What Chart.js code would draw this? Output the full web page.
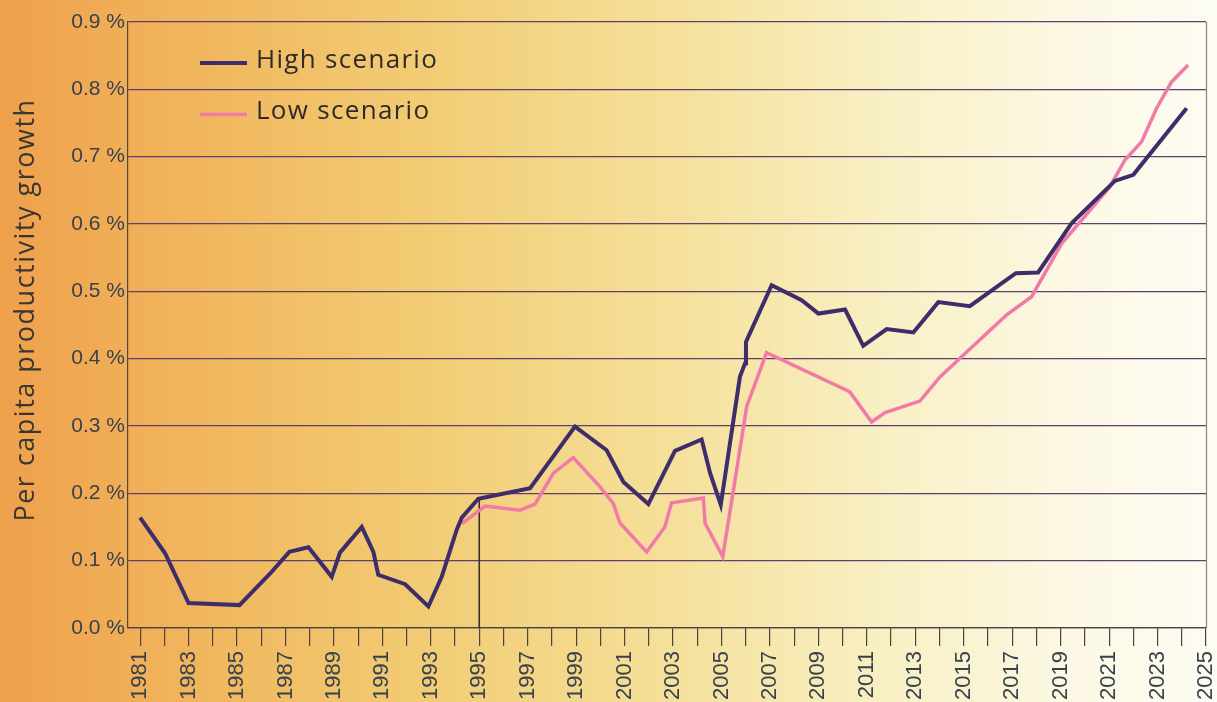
<!DOCTYPE html>
<html>
<head>
<meta charset="utf-8">
<script src="https://cdn.jsdelivr.net/npm/chart.js@4.4.0/dist/chart.umd.min.js"></script>
<style>
  html, body { margin: 0; padding: 0; background: #fdfcf2; }
  #wrap { width: 1217px; height: 702px; }
</style>
</head>
<body>
<div id="wrap"><canvas id="c" width="1217" height="702"></canvas></div>
<script>
// ---- data ----
const highYears  = [1981.0, 1982.03, 1983.0, 1985.1, 1986.37, 1987.16, 1987.95, 1988.91, 1989.25, 1990.15, 1990.63, 1990.83, 1991.94, 1992.9, 1993.45, 1994.07, 1994.28, 1994.96, 1995.37, 1997.1, 1998.95, 2000.26, 2000.95, 2001.98, 2003.08, 2004.18, 2004.53, 2004.97, 2005.76, 2005.97, 2006.01, 2007.07, 2008.31, 2009.0, 2010.1, 2010.85, 2011.82, 2012.92, 2013.95, 2015.25, 2017.15, 2018.07, 2019.45, 2021.24, 2022.0, 2024.2];
const highValues = [0.164, 0.111, 0.037, 0.034, 0.081, 0.113, 0.120, 0.076, 0.112, 0.150, 0.113, 0.079, 0.065, 0.032, 0.076, 0.146, 0.164, 0.192, 0.195, 0.2075, 0.299, 0.264, 0.217, 0.184, 0.263, 0.280, 0.230, 0.183, 0.373, 0.393, 0.425, 0.509, 0.487, 0.467, 0.473, 0.419, 0.444, 0.439, 0.484, 0.478, 0.527, 0.528, 0.601, 0.664, 0.673, 0.772];

const lowYears   = [1994.28, 1995.24, 1996.68, 1997.3, 1998.06, 1998.88, 1999.98, 2000.53, 2000.81, 2001.91, 2002.66, 2002.94, 2004.25, 2004.32, 2005.05, 2005.56, 2006.04, 2006.86, 2010.29, 2011.2, 2011.75, 2013.19, 2014.02, 2015.12, 2016.77, 2017.8, 2019.04, 2021.03, 2021.65, 2022.34, 2022.96, 2023.58, 2024.26];
const lowValues  = [0.155, 0.181, 0.175, 0.184, 0.230, 0.253, 0.210, 0.185, 0.156, 0.113, 0.150, 0.186, 0.193, 0.156, 0.106, 0.220, 0.329, 0.409, 0.351, 0.306, 0.320, 0.337, 0.373, 0.410, 0.465, 0.492, 0.571, 0.655, 0.695, 0.722, 0.772, 0.811, 0.836];

const markerYears  = [1995, 1995];
const markerValues = [0, 0.192];

const seriesNames = ['High scenario', 'Low scenario'];
const yTitle = 'Per capita productivity growth';
const xMin = 1980.5, xMax = 2025;
const yTickValues = [0, 0.1, 0.2, 0.3, 0.4, 0.5, 0.6, 0.7, 0.8, 0.9];

const toPts = (xs, ys) => xs.map((x, i) => ({ x: x, y: ys[i] }));

const bgPlugin = {
  id: 'bg',
  beforeDraw(chart) {
    const ctx = chart.ctx;
    const g = ctx.createLinearGradient(0, 0, chart.width, 0);
    g.addColorStop(0.00, '#efa04c');
    g.addColorStop(0.18, '#f1b85f');
    g.addColorStop(0.35, '#f2cc74');
    g.addColorStop(0.55, '#f5e09a');
    g.addColorStop(0.72, '#f8efc2');
    g.addColorStop(0.88, '#fcf8e4');
    g.addColorStop(1.00, '#fdfcf3');
    ctx.save();
    ctx.fillStyle = g;
    ctx.fillRect(0, 0, chart.width, chart.height);
    ctx.restore();
  },
  afterDraw(chart) {
    const ctx = chart.ctx, a = chart.chartArea;
    ctx.save();
    ctx.strokeStyle = '#8d8272';
    ctx.lineWidth = 1.2;
    ctx.beginPath();
    ctx.moveTo(a.right + 0.5, a.top);
    ctx.lineTo(a.right + 0.5, a.bottom);
    ctx.stroke();
    // legend
    const items = [
      { y: 63, ty: 68, color: '#3f2d6b', w: 4 },
      { y: 114.5, ty: 119, color: '#f27aa8', w: 3.5 }
    ];
    ctx.font = '26px "Open Sans"';
    ctx.letterSpacing = '1.3px';
    ctx.textBaseline = 'alphabetic';
    ctx.textAlign = 'left';
    items.forEach((it, i) => {
      ctx.strokeStyle = it.color;
      ctx.lineWidth = it.w;
      ctx.beginPath();
      ctx.moveTo(200, it.y);
      ctx.lineTo(247, it.y);
      ctx.stroke();
      ctx.fillStyle = '#2e2b28';
      ctx.fillText(chart.data.datasets[i].label, 256, it.ty);
    });
    // y axis title
    ctx.translate(26, 310);
    ctx.rotate(-Math.PI / 2);
    ctx.font = '27px "Open Sans"';
    ctx.letterSpacing = '1.5px';
    ctx.textAlign = 'center';
    ctx.textBaseline = 'middle';
    ctx.fillStyle = '#3a3632';
    ctx.fillText(yTitle, 0, 0);
    ctx.restore();
  }
};

new Chart(document.getElementById('c'), {
  type: 'line',
  data: {
    datasets: [
      { label: seriesNames[0], data: toPts(highYears, highValues), borderColor: '#3f2d6b', borderWidth: 4, pointRadius: 0, tension: 0, order: 1 },
      { label: seriesNames[1], data: toPts(lowYears, lowValues), borderColor: '#f27aa8', borderWidth: 3.5, pointRadius: 0, tension: 0, order: 2 },
      { label: 'marker', data: toPts(markerYears, markerValues), borderColor: '#3a2f2a', borderWidth: 1.6, pointRadius: 0, order: 3 }
    ]
  },
  plugins: [bgPlugin],
  options: {
    responsive: false,
    animation: false,
    layout: { padding: { top: 22, right: 11, left: 0, bottom: 0 } },
    plugins: { legend: { display: false }, tooltip: { enabled: false } },
    scales: {
      x: {
        type: 'linear',
        min: xMin, max: xMax,
        afterFit(s) { s.height = 74; s.paddingLeft = 0; s.paddingRight = 0; },
        border: { display: true, color: '#4a4440', width: 1.2 },
        grid: { drawOnChartArea: false, drawTicks: true, tickLength: 18, color: '#4a4440', lineWidth: 1.2 },
        ticks: {
          stepSize: 1, includeBounds: false, autoSkip: false,
          minRotation: 90, maxRotation: 90, padding: 5,
          color: '#38424c', font: { family: '"Liberation Sans", Arial', size: 22 },
          callback(v) { return (Number.isInteger(v) && v % 2 === 1) ? String(v) : ''; }
        }
      },
      y: {
        min: 0, max: 0.9,
        afterFit(s) { s.width = 128; s.paddingTop = 0; s.paddingBottom = 0; },
        afterBuildTicks(s) { s.ticks = yTickValues.map(v => ({ value: v })); },
        border: { display: true, color: '#4a4a3e', width: 1.2 },
        grid: { drawTicks: false, color: '#5d3f70', lineWidth: 1.2 },
        ticks: {
          padding: 3,
          color: '#38424c', font: { family: '"Liberation Sans", Arial', size: 21 },
          callback(v) { return v.toFixed(1) + ' %'; }
        },
        title: { display: false }
      }
    }
  }
});
</script>
</body>
</html>
